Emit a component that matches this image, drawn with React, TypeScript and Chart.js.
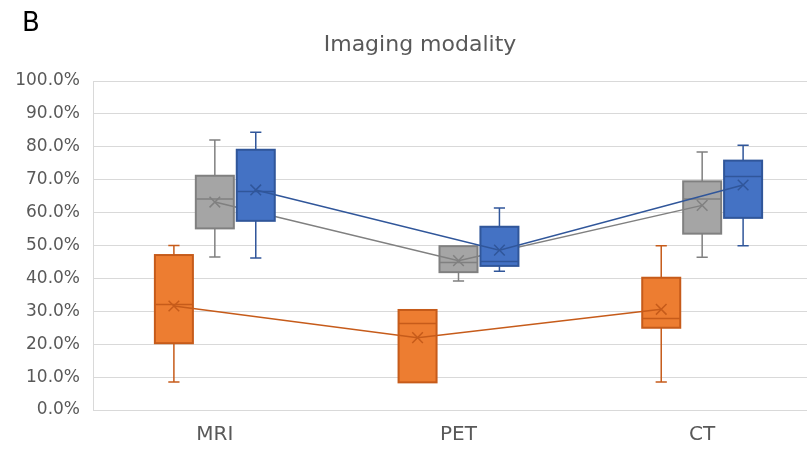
import { useEffect, useRef } from "react";
import { Chart, registerables } from "chart.js";

Chart.register(...registerables);

// ---- Data (percent) ----
const categories = ["MRI", "PET", "CT"];

const orangeMin = [8.5, 8.4, 8.5];
const orangeQ1 = [20.3, 8.4, 25.0];
const orangeMedian = [32.1, 26.3, 27.8];
const orangeQ3 = [47.1, 30.4, 40.2];
const orangeMax = [50.0, 30.4, 49.9];
const orangeMean = [31.6, 22.0, 30.6];

const grayMin = [46.5, 39.2, 46.4];
const grayQ1 = [55.2, 41.9, 53.6];
const grayMedian = [64.1, 44.8, 64.1];
const grayQ3 = [71.2, 49.8, 69.5];
const grayMax = [82.1, 49.8, 78.4];
const grayMean = [63.2, 45.4, 62.2];

const blueMin = [46.2, 42.2, 49.9];
const blueQ1 = [57.5, 43.8, 58.4];
const blueMedian = [66.4, 45.1, 71.0];
const blueQ3 = [79.1, 55.7, 75.8];
const blueMax = [84.4, 61.4, 80.5];
const blueMean = [66.9, 48.6, 68.4];

const chartTitle = "Imaging modality";
const panelLetter = "B";

const FONT = "DejaVu Sans";

const boxSeries = [
  { offset: -0.168, fill: "#ED7D31", border: "#C65B1A", min: orangeMin, q1: orangeQ1, median: orangeMedian, q3: orangeQ3, max: orangeMax, mean: orangeMean },
  { offset: 0, fill: "#A5A5A5", border: "#808080", min: grayMin, q1: grayQ1, median: grayMedian, q3: grayQ3, max: grayMax, mean: grayMean },
  { offset: 0.168, fill: "#4472C4", border: "#30569A", min: blueMin, q1: blueQ1, median: blueMedian, q3: blueQ3, max: blueMax, mean: blueMean },
];

const BOX_HALF = 0.078;
const CAP_HALF = 0.023;

const boxPlugin = {
  id: "boxes",
  beforeDatasetDraw(chart: any, args: any) {
    const ds = chart.data.datasets[args.index];
    const s = boxSeries[ds.boxIndex];
    if (!s) return;
    const { ctx } = chart;
    const x = chart.scales.x;
    const y = chart.scales.y;
    ctx.save();
    for (let i = 0; i < categories.length; i++) {
      const v = i + 1 + s.offset;
      const cx = x.getPixelForValue(v);
      const half = x.getPixelForValue(v + BOX_HALF) - cx;
      const cap = x.getPixelForValue(v + CAP_HALF) - cx;
      const pMin = y.getPixelForValue(s.min[i]);
      const pQ1 = y.getPixelForValue(s.q1[i]);
      const pMed = y.getPixelForValue(s.median[i]);
      const pQ3 = y.getPixelForValue(s.q3[i]);
      const pMax = y.getPixelForValue(s.max[i]);
      ctx.strokeStyle = s.border;
      ctx.lineWidth = 1.5;
      ctx.beginPath();
      if (s.max[i] > s.q3[i] + 0.3) {
        ctx.moveTo(cx, pQ3);
        ctx.lineTo(cx, pMax);
        ctx.moveTo(cx - cap, pMax);
        ctx.lineTo(cx + cap, pMax);
      }
      if (s.min[i] < s.q1[i] - 0.3) {
        ctx.moveTo(cx, pQ1);
        ctx.lineTo(cx, pMin);
        ctx.moveTo(cx - cap, pMin);
        ctx.lineTo(cx + cap, pMin);
      }
      ctx.stroke();
      ctx.fillStyle = s.fill;
      ctx.lineWidth = 2;
      ctx.fillRect(cx - half, pQ3, 2 * half, pQ1 - pQ3);
      ctx.strokeRect(cx - half, pQ3, 2 * half, pQ1 - pQ3);
      ctx.lineWidth = 1.5;
      ctx.beginPath();
      ctx.moveTo(cx - half, pMed);
      ctx.lineTo(cx + half, pMed);
      ctx.stroke();
    }
    ctx.restore();
  },
};

const textPlugin = {
  id: "headerTexts",
  afterDraw(chart: any) {
    const { ctx } = chart;
    ctx.save();
    ctx.fillStyle = "#000000";
    ctx.font = `26px ${FONT}`;
    ctx.textAlign = "left";
    ctx.textBaseline = "alphabetic";
    ctx.fillText(panelLetter, 22, 31);
    ctx.fillStyle = "#595959";
    ctx.font = `22px ${FONT}`;
    ctx.textAlign = "center";
    ctx.textBaseline = "middle";
    ctx.fillText(chartTitle, 420, 45);
    ctx.restore();
  },
};

export default function App() {
  const ref = useRef<HTMLCanvasElement | null>(null);

  useEffect(() => {
    if (!ref.current) return;
    const datasets = boxSeries.map((s, k) => ({
      type: "line" as const,
      label: `Series ${k + 1}`,
      boxIndex: k,
      order: 3 - k,
      data: s.mean.map((m, i) => ({ x: i + 1 + s.offset, y: m })),
      borderColor: s.border,
      backgroundColor: s.border,
      borderWidth: 1.5,
      pointStyle: "crossRot",
      pointRadius: 7.5,
      pointHoverRadius: 7.5,
      pointBorderWidth: 1.5,
      pointBorderColor: s.border,
      tension: 0,
      fill: false,
    }));

    const chart = new Chart(ref.current, {
      type: "line",
      data: { datasets: datasets as any },
      options: {
        responsive: false,
        animation: false,
        events: [],
        layout: { padding: { left: 0, right: 16, top: 81, bottom: 0 } },
        plugins: {
          legend: { display: false },
          tooltip: { enabled: false },
          title: { display: false },
        },
        scales: {
          x: {
            type: "linear",
            min: 0.5,
            max: 3.5,
            afterBuildTicks: (scale: any) => {
              scale.ticks = categories.map((_, i) => ({ value: i + 1 }));
            },
            afterFit: (scale: any) => {
              scale.height = 43;
            },
            ticks: {
              color: "#595959",
              font: { family: FONT, size: 20 },
              padding: 13,
              callback: (v: any) => categories[Math.round(Number(v)) - 1] ?? "",
              maxRotation: 0,
              autoSkip: false,
            },
            grid: { display: false, drawTicks: false },
            border: { display: true, color: "#D9D9D9", width: 1 },
          },
          y: {
            min: 0,
            max: 100,
            afterFit: (scale: any) => {
              scale.width = 93;
            },
            ticks: {
              stepSize: 10,
              color: "#595959",
              font: { family: FONT, size: 17 },
              padding: 13,
              callback: (v: any) => Number(v).toFixed(1) + "%",
            },
            grid: { color: "#D9D9D9", lineWidth: 1, drawTicks: false },
            border: { display: true, color: "#D9D9D9", width: 1 },
          },
        },
      },
      plugins: [boxPlugin, textPlugin],
    });
    return () => chart.destroy();
  }, []);

  return (
    <div
      style={{
        position: "fixed",
        left: 0,
        top: 0,
        width: 807,
        height: 453,
        overflow: "hidden",
        background: "#ffffff",
      }}
    >
      <canvas ref={ref} width={840} height={453} style={{ display: "block" }} />
    </div>
  );
}
